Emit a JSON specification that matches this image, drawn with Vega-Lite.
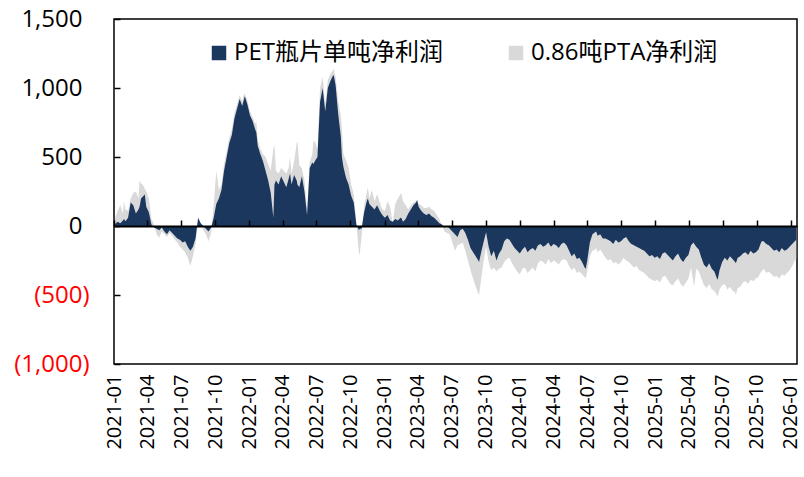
{
"$schema": "https://vega.github.io/schema/vega-lite/v6.json",
"width": 683, "height": 345,
"autosize": "none",
"padding": {"left": 114, "top": 19, "right": 7, "bottom": 113},
"background": "white",
"config": {"view": {"stroke": "#000", "strokeWidth": 1.5}, "font": "Open Sans"},
"data": {"values": [
{"d":"2021/01/04","p":15,"t":60},{"d":"2021/01/11","p":30,"t":110},{"d":"2021/01/18","p":20,"t":150},{"d":"2021/01/25","p":40,"t":90},{"d":"2021/01/28","p":50,"t":180},
{"d":"2021/02/01","p":35,"t":120},{"d":"2021/02/08","p":60,"t":110},{"d":"2021/02/15","p":170,"t":200},{"d":"2021/02/22","p":150,"t":240},
{"d":"2021/03/01","p":90,"t":250},{"d":"2021/03/08","p":120,"t":200},{"d":"2021/03/11","p":140,"t":330},{"d":"2021/03/15","p":200,"t":310},{"d":"2021/03/22","p":220,"t":290},{"d":"2021/03/25","p":230,"t":270},
{"d":"2021/03/29","p":140,"t":250},{"d":"2021/04/05","p":100,"t":200},{"d":"2021/04/12","p":10,"t":50},{"d":"2021/04/19","p":-10,"t":10},
{"d":"2021/04/26","p":-20,"t":-60},{"d":"2021/05/03","p":-30,"t":-85},{"d":"2021/05/10","p":-10,"t":-40},{"d":"2021/05/17","p":-40,"t":-60},
{"d":"2021/05/24","p":-60,"t":-80},{"d":"2021/05/31","p":-30,"t":-50},{"d":"2021/06/07","p":-50,"t":-70},{"d":"2021/06/14","p":-70,"t":-100},
{"d":"2021/06/21","p":-90,"t":-120},{"d":"2021/06/28","p":-100,"t":-150},{"d":"2021/07/05","p":-120,"t":-170},{"d":"2021/07/12","p":-110,"t":-190},
{"d":"2021/07/19","p":-150,"t":-230},{"d":"2021/07/26","p":-180,"t":-290},{"d":"2021/08/02","p":-150,"t":-220},{"d":"2021/08/09","p":-90,"t":-130},
{"d":"2021/08/16","p":60,"t":40},{"d":"2021/08/23","p":20,"t":10},{"d":"2021/08/30","p":0,"t":-30},{"d":"2021/09/06","p":-20,"t":-60},
{"d":"2021/09/13","p":-40,"t":-110},{"d":"2021/09/20","p":-10,"t":-50},{"d":"2021/09/27","p":60,"t":150},{"d":"2021/10/04","p":160,"t":400},
{"d":"2021/10/11","p":200,"t":260},{"d":"2021/10/18","p":260,"t":300},{"d":"2021/10/25","p":400,"t":450},{"d":"2021/11/01","p":500,"t":540},
{"d":"2021/11/08","p":600,"t":640},{"d":"2021/11/15","p":660,"t":700},{"d":"2021/11/22","p":780,"t":820},{"d":"2021/11/29","p":850,"t":880},
{"d":"2021/12/06","p":920,"t":950},{"d":"2021/12/13","p":870,"t":900},{"d":"2021/12/16","p":900,"t":940},{"d":"2021/12/20","p":940,"t":960},{"d":"2021/12/27","p":880,"t":910},
{"d":"2022/01/03","p":800,"t":830},{"d":"2022/01/10","p":760,"t":790},{"d":"2022/01/17","p":700,"t":740},{"d":"2022/01/20","p":680,"t":760},{"d":"2022/01/24","p":580,"t":620},
{"d":"2022/01/31","p":520,"t":560},{"d":"2022/02/07","p":470,"t":520},{"d":"2022/02/14","p":400,"t":500},{"d":"2022/02/21","p":330,"t":450},
{"d":"2022/02/28","p":240,"t":400},{"d":"2022/03/07","p":60,"t":560},{"d":"2022/03/10","p":300,"t":590},{"d":"2022/03/14","p":330,"t":400},{"d":"2022/03/21","p":300,"t":380},
{"d":"2022/03/28","p":360,"t":420},{"d":"2022/04/04","p":320,"t":400},{"d":"2022/04/11","p":280,"t":380},{"d":"2022/04/18","p":350,"t":430},{"d":"2022/04/21","p":380,"t":500},
{"d":"2022/04/25","p":300,"t":380},{"d":"2022/05/02","p":370,"t":470},{"d":"2022/05/09","p":330,"t":600},{"d":"2022/05/11","p":300,"t":615},{"d":"2022/05/16","p":280,"t":440},
{"d":"2022/05/23","p":360,"t":420},{"d":"2022/05/30","p":250,"t":330},{"d":"2022/06/06","p":80,"t":120},{"d":"2022/06/13","p":420,"t":460},
{"d":"2022/06/20","p":460,"t":520},{"d":"2022/06/23","p":450,"t":615},{"d":"2022/06/27","p":470,"t":610},{"d":"2022/07/04","p":500,"t":560},{"d":"2022/07/11","p":900,"t":1000},
{"d":"2022/07/18","p":1000,"t":1080},{"d":"2022/07/25","p":830,"t":880},{"d":"2022/08/01","p":1000,"t":1060},{"d":"2022/08/08","p":1050,"t":1100},
{"d":"2022/08/15","p":1090,"t":1130},{"d":"2022/08/17","p":1090,"t":1135},{"d":"2022/08/22","p":1020,"t":1080},{"d":"2022/08/29","p":810,"t":900},{"d":"2022/09/05","p":650,"t":800},{"d":"2022/09/08","p":500,"t":700},
{"d":"2022/09/12","p":430,"t":520},{"d":"2022/09/19","p":350,"t":480},{"d":"2022/09/26","p":300,"t":420},{"d":"2022/10/03","p":220,"t":300},
{"d":"2022/10/10","p":170,"t":230},{"d":"2022/10/17","p":10,"t":20},{"d":"2022/10/24","p":-30,"t":-200},{"d":"2022/10/26","p":-20,"t":-205},{"d":"2022/10/31","p":-20,"t":-80},
{"d":"2022/11/07","p":100,"t":150},{"d":"2022/11/14","p":180,"t":240},{"d":"2022/11/17","p":200,"t":280},{"d":"2022/11/21","p":160,"t":200},{"d":"2022/11/28","p":140,"t":260},
{"d":"2022/12/05","p":120,"t":180},{"d":"2022/12/12","p":150,"t":230},{"d":"2022/12/19","p":110,"t":170},{"d":"2022/12/26","p":80,"t":120},
{"d":"2023/01/02","p":60,"t":110},{"d":"2023/01/09","p":80,"t":180},{"d":"2023/01/16","p":40,"t":140},{"d":"2023/01/23","p":30,"t":20},
{"d":"2023/01/30","p":50,"t":160},{"d":"2023/02/06","p":40,"t":200},{"d":"2023/02/13","p":60,"t":230},{"d":"2023/02/15","p":60,"t":240},{"d":"2023/02/20","p":30,"t":180},
{"d":"2023/02/27","p":50,"t":150},{"d":"2023/03/06","p":90,"t":120},{"d":"2023/03/13","p":120,"t":150},{"d":"2023/03/20","p":150,"t":170},
{"d":"2023/03/27","p":170,"t":180},{"d":"2023/03/30","p":190,"t":170},{"d":"2023/04/03","p":140,"t":160},{"d":"2023/04/10","p":110,"t":150},{"d":"2023/04/17","p":90,"t":130},
{"d":"2023/04/24","p":80,"t":130},{"d":"2023/05/01","p":90,"t":140},{"d":"2023/05/08","p":70,"t":120},{"d":"2023/05/15","p":60,"t":110},
{"d":"2023/05/22","p":40,"t":80},{"d":"2023/05/29","p":20,"t":50},{"d":"2023/06/05","p":10,"t":0},{"d":"2023/06/12","p":-10,"t":-40},
{"d":"2023/06/19","p":0,"t":-50},{"d":"2023/06/26","p":-20,"t":-60},{"d":"2023/07/03","p":-40,"t":-120},{"d":"2023/07/10","p":-60,"t":-180},
{"d":"2023/07/17","p":-80,"t":-140},{"d":"2023/07/24","p":-30,"t":-130},{"d":"2023/07/31","p":-20,"t":-120},{"d":"2023/08/07","p":-50,"t":-180},
{"d":"2023/08/14","p":-100,"t":-250},{"d":"2023/08/21","p":-160,"t":-320},{"d":"2023/08/28","p":-190,"t":-380},{"d":"2023/09/04","p":-220,"t":-440},
{"d":"2023/09/11","p":-250,"t":-490},{"d":"2023/09/13","p":-260,"t":-500},{"d":"2023/09/18","p":-200,"t":-400},{"d":"2023/09/25","p":-120,"t":-260},{"d":"2023/10/02","p":-45,"t":-150},
{"d":"2023/10/09","p":-150,"t":-260},{"d":"2023/10/16","p":-220,"t":-320},{"d":"2023/10/23","p":-180,"t":-300},{"d":"2023/10/30","p":-250,"t":-330},
{"d":"2023/11/06","p":-200,"t":-310},{"d":"2023/11/13","p":-170,"t":-300},{"d":"2023/11/20","p":-110,"t":-260},{"d":"2023/11/27","p":-90,"t":-240},
{"d":"2023/12/04","p":-100,"t":-230},{"d":"2023/12/11","p":-130,"t":-270},{"d":"2023/12/18","p":-160,"t":-300},{"d":"2023/12/25","p":-180,"t":-330},
{"d":"2024/01/01","p":-200,"t":-350},{"d":"2024/01/08","p":-170,"t":-310},{"d":"2024/01/15","p":-150,"t":-300},{"d":"2024/01/22","p":-190,"t":-340},
{"d":"2024/01/29","p":-170,"t":-320},{"d":"2024/02/05","p":-160,"t":-300},{"d":"2024/02/12","p":-180,"t":-330},{"d":"2024/02/19","p":-140,"t":-270},
{"d":"2024/02/26","p":-130,"t":-250},{"d":"2024/03/04","p":-150,"t":-260},{"d":"2024/03/11","p":-140,"t":-280},{"d":"2024/03/18","p":-120,"t":-240},
{"d":"2024/03/25","p":-150,"t":-270},{"d":"2024/04/01","p":-130,"t":-250},{"d":"2024/04/08","p":-140,"t":-260},{"d":"2024/04/15","p":-160,"t":-280},
{"d":"2024/04/22","p":-130,"t":-250},{"d":"2024/04/29","p":-120,"t":-240},{"d":"2024/05/06","p":-140,"t":-250},{"d":"2024/05/13","p":-180,"t":-290},
{"d":"2024/05/20","p":-220,"t":-320},{"d":"2024/05/27","p":-200,"t":-300},{"d":"2024/06/03","p":-240,"t":-340},{"d":"2024/06/10","p":-230,"t":-330},
{"d":"2024/06/17","p":-260,"t":-350},{"d":"2024/06/24","p":-300,"t":-370},{"d":"2024/06/27","p":-310,"t":-380},{"d":"2024/07/01","p":-250,"t":-330},{"d":"2024/07/08","p":-120,"t":-220},
{"d":"2024/07/15","p":-60,"t":-180},{"d":"2024/07/22","p":-45,"t":-170},{"d":"2024/07/25","p":-40,"t":-160},{"d":"2024/07/29","p":-70,"t":-190},{"d":"2024/08/05","p":-60,"t":-170},
{"d":"2024/08/12","p":-90,"t":-200},{"d":"2024/08/19","p":-90,"t":-230},{"d":"2024/08/26","p":-100,"t":-250},{"d":"2024/09/02","p":-110,"t":-240},
{"d":"2024/09/09","p":-130,"t":-270},{"d":"2024/09/16","p":-100,"t":-260},{"d":"2024/09/23","p":-120,"t":-280},{"d":"2024/09/30","p":-110,"t":-260},
{"d":"2024/10/07","p":-90,"t":-230},{"d":"2024/10/14","p":-80,"t":-250},{"d":"2024/10/21","p":-110,"t":-260},{"d":"2024/10/28","p":-130,"t":-280},
{"d":"2024/11/04","p":-140,"t":-300},{"d":"2024/11/11","p":-150,"t":-290},{"d":"2024/11/18","p":-160,"t":-320},{"d":"2024/11/25","p":-170,"t":-330},
{"d":"2024/12/02","p":-180,"t":-340},{"d":"2024/12/09","p":-200,"t":-360},{"d":"2024/12/16","p":-220,"t":-380},{"d":"2024/12/23","p":-210,"t":-390},
{"d":"2024/12/30","p":-230,"t":-400},{"d":"2025/01/06","p":-220,"t":-390},{"d":"2025/01/13","p":-240,"t":-410},{"d":"2025/01/20","p":-200,"t":-370},
{"d":"2025/01/27","p":-190,"t":-360},{"d":"2025/02/03","p":-210,"t":-390},{"d":"2025/02/10","p":-230,"t":-420},{"d":"2025/02/17","p":-250,"t":-430},
{"d":"2025/02/24","p":-220,"t":-400},{"d":"2025/03/03","p":-200,"t":-380},{"d":"2025/03/10","p":-240,"t":-420},{"d":"2025/03/17","p":-260,"t":-440},
{"d":"2025/03/24","p":-230,"t":-410},{"d":"2025/03/31","p":-210,"t":-380},{"d":"2025/04/07","p":-140,"t":-300},{"d":"2025/04/14","p":-120,"t":-420},{"d":"2025/04/16","p":-130,"t":-430},
{"d":"2025/04/21","p":-150,"t":-310},{"d":"2025/04/28","p":-170,"t":-330},{"d":"2025/05/05","p":-230,"t":-380},{"d":"2025/05/12","p":-280,"t":-430},
{"d":"2025/05/19","p":-300,"t":-450},{"d":"2025/05/26","p":-270,"t":-420},{"d":"2025/06/02","p":-310,"t":-460},{"d":"2025/06/09","p":-330,"t":-470},
{"d":"2025/06/16","p":-380,"t":-500},{"d":"2025/06/18","p":-390,"t":-510},{"d":"2025/06/23","p":-320,"t":-460},{"d":"2025/06/30","p":-260,"t":-430},{"d":"2025/07/07","p":-230,"t":-420},
{"d":"2025/07/14","p":-250,"t":-460},{"d":"2025/07/21","p":-220,"t":-440},{"d":"2025/07/28","p":-240,"t":-470},{"d":"2025/08/04","p":-260,"t":-480},{"d":"2025/08/06","p":-270,"t":-500},
{"d":"2025/08/11","p":-230,"t":-450},{"d":"2025/08/18","p":-220,"t":-440},{"d":"2025/08/25","p":-200,"t":-410},{"d":"2025/09/01","p":-190,"t":-400},
{"d":"2025/09/08","p":-210,"t":-420},{"d":"2025/09/15","p":-180,"t":-390},{"d":"2025/09/22","p":-200,"t":-400},{"d":"2025/09/29","p":-190,"t":-380},
{"d":"2025/10/06","p":-170,"t":-370},{"d":"2025/10/13","p":-120,"t":-330},{"d":"2025/10/15","p":-110,"t":-330},{"d":"2025/10/20","p":-110,"t":-310},{"d":"2025/10/27","p":-130,"t":-340},
{"d":"2025/11/03","p":-140,"t":-330},{"d":"2025/11/10","p":-160,"t":-350},{"d":"2025/11/17","p":-180,"t":-370},{"d":"2025/11/24","p":-170,"t":-360},
{"d":"2025/12/01","p":-190,"t":-380},{"d":"2025/12/08","p":-160,"t":-350},{"d":"2025/12/15","p":-180,"t":-360},{"d":"2025/12/22","p":-170,"t":-340},
{"d":"2025/12/29","p":-150,"t":-320},{"d":"2026/01/05","p":-130,"t":-290},{"d":"2026/01/12","p":-110,"t":-250},{"d":"2026/01/16","p":-100,"t":-240}
]},
"resolve": {"axis": {"x": "independent"}},
"layer": [
{
"mark": {"type": "area", "opacity": 1},
"encoding": {
"x": {"field": "d", "type": "temporal",
"scale": {"domain": [{"year": 2021, "month": 1, "date": 1}, {"year": 2026, "month": 1, "date": 18}]},
"axis": {"orient": "bottom", "title": null, "domain": false, "ticks": false, "grid": false, "format": "%Y-%m", "labelAngle": 270, "labelFontSize": 20, "labelColor": "#000", "labelPadding": 10, "labelOverlap": false, "labelFont": "Open Sans",
"values": [{"year":2021,"month":1,"date":1},{"year":2021,"month":4,"date":1},{"year":2021,"month":7,"date":1},{"year":2021,"month":10,"date":1},{"year":2022,"month":1,"date":1},{"year":2022,"month":4,"date":1},{"year":2022,"month":7,"date":1},{"year":2022,"month":10,"date":1},{"year":2023,"month":1,"date":1},{"year":2023,"month":4,"date":1},{"year":2023,"month":7,"date":1},{"year":2023,"month":10,"date":1},{"year":2024,"month":1,"date":1},{"year":2024,"month":4,"date":1},{"year":2024,"month":7,"date":1},{"year":2024,"month":10,"date":1},{"year":2025,"month":1,"date":1},{"year":2025,"month":4,"date":1},{"year":2025,"month":7,"date":1},{"year":2025,"month":10,"date":1},{"year":2026,"month":1,"date":1}]}},
"y": {"field": "t", "type": "quantitative",
"scale": {"domain": [-1000, 1500], "nice": false},
"axis": {"title": null, "values": [-1000, -500, 0, 500, 1000, 1500], "domain": false, "grid": false, "tickSize": -6, "tickColor": "#000", "tickWidth": 1.5, "labelFontSize": 24, "labelFont": "Open Sans",
"labelPadding": {"condition": {"test": "datum.value < 0", "value": 31}, "value": 38},
"labelExpr": "datum.value < 0 ? '(' + format(-datum.value, ',') + ')' : format(datum.value, ',')",
"labelColor": {"condition": {"test": "datum.value < 0", "value": "#FF0000"}, "value": "#000"}}},
"color": {"datum": "0.86吨PTA净利润", "type": "nominal",
"scale": {"domain": ["PET瓶片单吨净利润", "0.86吨PTA净利润"], "range": ["#1B375D", "#D9D9D9"]},
"legend": {"orient": "none", "legendX": 93, "legendY": 22, "direction": "horizontal", "title": null, "symbolType": "square", "symbolSize": 210, "symbolStrokeWidth": 0, "symbolOpacity": 1, "labelFontSize": 24, "labelFont": "Open Sans, Noto Sans CJK SC", "labelColor": "#000", "columnPadding": 61, "labelOffset": 3, "padding": 0, "labelLimit": 400}}
}
},
{
"mark": {"type": "area", "opacity": 1},
"encoding": {
"x": {"field": "d", "type": "temporal",
"axis": {"orient": "top", "offset": -207, "title": null, "domain": true, "domainColor": "#000", "domainWidth": 2, "ticks": true, "tickSize": 6, "tickWidth": 1.5, "tickColor": "#000", "labels": false, "grid": false, "zindex": 1,
"values": [{"year":2021,"month":1,"date":1},{"year":2021,"month":4,"date":1},{"year":2021,"month":7,"date":1},{"year":2021,"month":10,"date":1},{"year":2022,"month":1,"date":1},{"year":2022,"month":4,"date":1},{"year":2022,"month":7,"date":1},{"year":2022,"month":10,"date":1},{"year":2023,"month":1,"date":1},{"year":2023,"month":4,"date":1},{"year":2023,"month":7,"date":1},{"year":2023,"month":10,"date":1},{"year":2024,"month":1,"date":1},{"year":2024,"month":4,"date":1},{"year":2024,"month":7,"date":1},{"year":2024,"month":10,"date":1},{"year":2025,"month":1,"date":1},{"year":2025,"month":4,"date":1},{"year":2025,"month":7,"date":1},{"year":2025,"month":10,"date":1},{"year":2026,"month":1,"date":1}]}},
"y": {"field": "p", "type": "quantitative"},
"color": {"datum": "PET瓶片单吨净利润", "type": "nominal"}
}
}
]
}
